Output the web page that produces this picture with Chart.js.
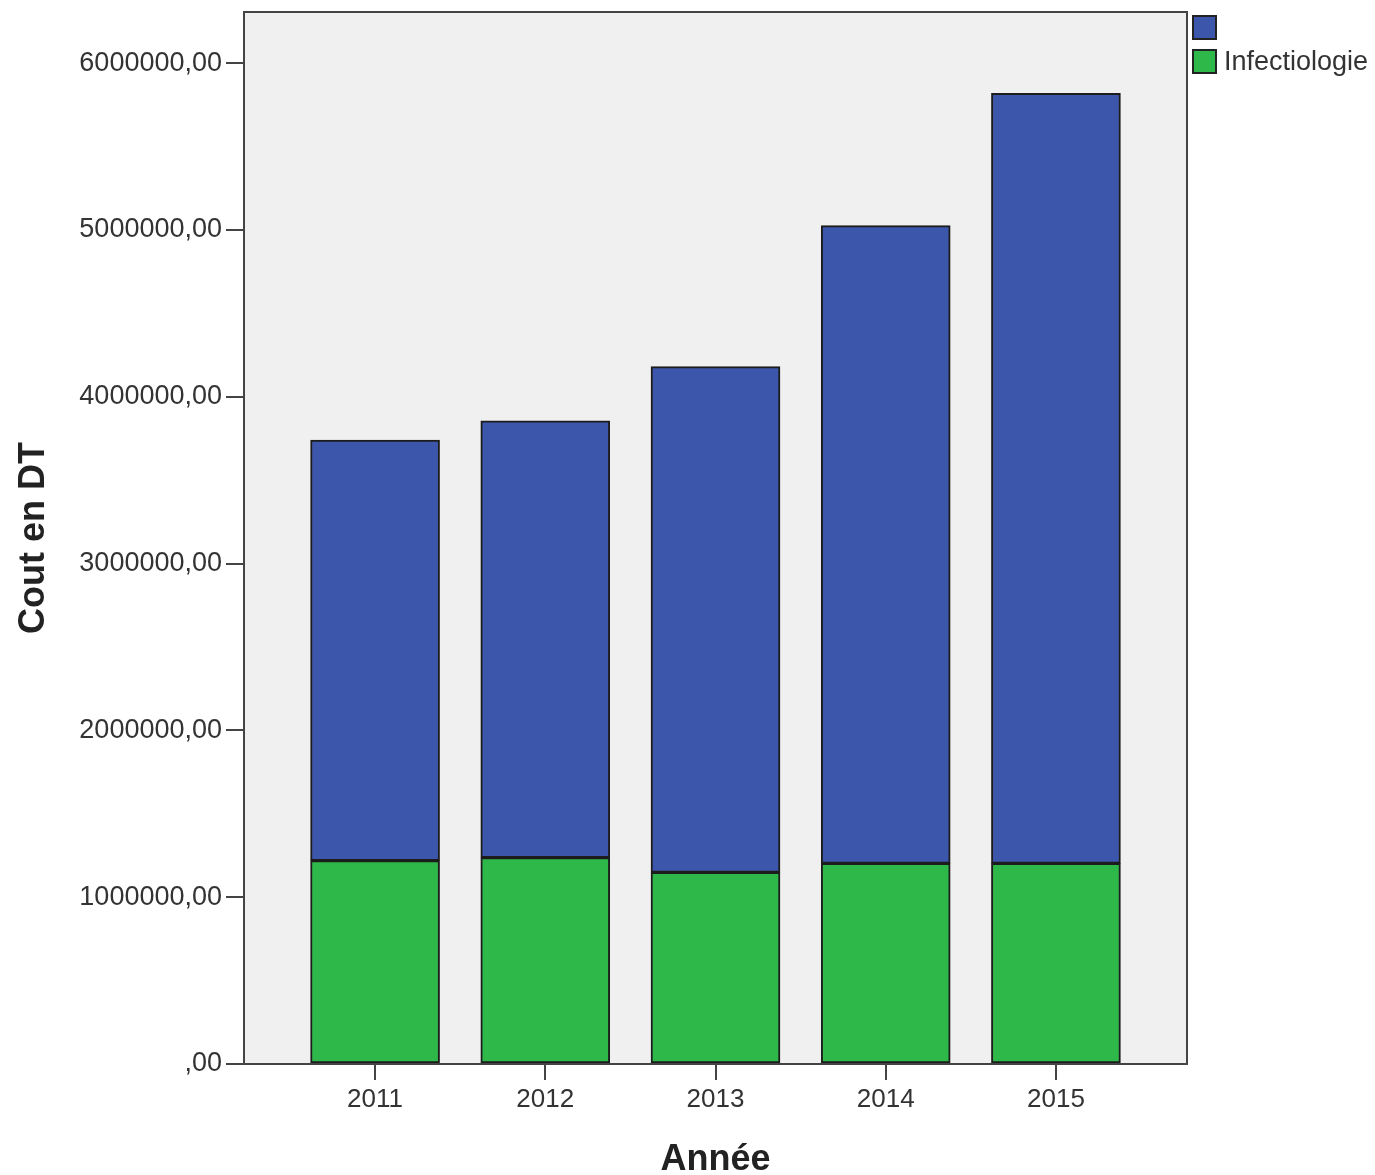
<!DOCTYPE html>
<html>
<head>
<meta charset="utf-8">
<script src="https://cdn.jsdelivr.net/npm/chart.js@4"></script>
<style>
  html, body { margin: 0; padding: 0; background: #fff; }
  #wrap { position: relative; width: 1375px; height: 1175px; }
  #legend { position: absolute; left: 1192px; top: 15px; font-family: "Liberation Sans", Arial, sans-serif; font-size: 27px; color: #333; }
  #legend .item { display: flex; align-items: center; height: 25px; margin-bottom: 9px; }
  #legend .box { width: 21px; height: 21px; border: 2px solid #222; margin-right: 7px; }
</style>
</head>
<body>
<div id="wrap">
  <canvas id="chart" width="1375" height="1175"></canvas>
  <div id="legend"></div>
</div>
<script>
// Cout en DT par année (SPSS style stacked bars)
const years = [2011, 2012, 2013, 2014, 2015];
const autre = [2521000, 2619000, 3031000, 3822000, 4615000];         // blue, no label
const infectiologie = [1219000, 1237000, 1149000, 1203000, 1203000]; // green
const yTicks = [0, 1000000, 2000000, 3000000, 4000000, 5000000, 6000000];

const seriesLabels = ['', 'Infectiologie'];
const seriesColors = ['#3c56ab', '#2fb84a'];

const fontFamily = '"Liberation Sans", Arial, sans-serif';

// legend (blue first, then green)
const legendEl = document.getElementById('legend');
seriesLabels.forEach((label, i) => {
    const item = document.createElement('div');
    item.className = 'item';
    const box = document.createElement('span');
    box.className = 'box';
    box.style.background = seriesColors[i];
    const txt = document.createElement('span');
    txt.textContent = label;
    item.appendChild(box);
    item.appendChild(txt);
    legendEl.appendChild(item);
});

// plot frame with grey background
const framePlugin = {
    id: 'frame',
    beforeDraw(chart) {
        const a = chart.chartArea, ctx = chart.ctx;
        ctx.save();
        ctx.fillStyle = '#f0f0f0';
        ctx.fillRect(a.left, a.top, a.right - a.left, a.bottom - a.top);
        ctx.restore();
    },
    afterDraw(chart) {
        const a = chart.chartArea, ctx = chart.ctx;
        ctx.save();
        ctx.strokeStyle = '#444';
        ctx.lineWidth = 2;
        ctx.strokeRect(a.left, a.top, a.right - a.left, a.bottom - a.top);
        ctx.restore();
    }
};

const ctx = document.getElementById('chart').getContext('2d');
new Chart(ctx, {
    type: 'bar',
    data: {
        datasets: [
            {
                label: 'Infectiologie',
                data: years.map((y, i) => ({ x: y, y: infectiologie[i] })),
                backgroundColor: seriesColors[1],
                borderColor: '#1c1c1c',
                borderWidth: 2,
                borderSkipped: false,
                barThickness: 129
            },
            {
                label: '',
                data: years.map((y, i) => ({ x: y, y: autre[i] })),
                backgroundColor: seriesColors[0],
                borderColor: '#1c1c1c',
                borderWidth: 2,
                borderSkipped: false,
                barThickness: 129
            }
        ]
    },
    options: {
        responsive: false,
        animation: false,
        layout: { padding: { top: 12, right: 188, left: 0, bottom: 0 } },
        plugins: {
            legend: { display: false },
            tooltip: { enabled: false }
        },
        scales: {
            x: {
                type: 'linear',
                stacked: true,
                offset: false,
                min: 2010.23,
                max: 2015.77,
                afterBuildTicks: scale => { scale.ticks = years.map(v => ({ value: v })); },
                afterFit: scale => { scale.height = 111; },
                grid: { offset: false, drawOnChartArea: false, drawTicks: true, tickLength: 16, color: '#444', lineWidth: 2 },
                border: { display: true, color: '#444', width: 2 },
                ticks: {
                    callback: v => String(v),
                    padding: 4,
                    color: '#333',
                    font: { family: fontFamily, size: 26 }
                },
                title: {
                    display: true,
                    text: 'Année',
                    color: '#222',
                    padding: { top: 0, bottom: -7 },
                    font: { family: fontFamily, size: 36, weight: 'bold' }
                }
            },
            y: {
                stacked: true,
                min: 0,
                max: 6306000,
                afterBuildTicks: scale => { scale.ticks = yTicks.map(v => ({ value: v })); },
                afterFit: scale => {
                    scale.width = 244;
                    scale.paddingTop = 0;
                    scale.paddingBottom = 0;
                },
                grid: { drawOnChartArea: false, drawTicks: true, tickLength: 18, color: '#444', lineWidth: 2 },
                border: { display: true, color: '#444', width: 2 },
                ticks: {
                    padding: 4,
                    color: '#333',
                    font: { family: fontFamily, size: 27 },
                    callback: v => (v === 0 ? ',00' : v + ',00')
                },
                title: {
                    display: true,
                    text: 'Cout en DT',
                    color: '#222',
                    padding: 12,
                    font: { family: fontFamily, size: 36, weight: 'bold' }
                }
            }
        }
    },
    plugins: [framePlugin]
});
</script>
</body>
</html>
